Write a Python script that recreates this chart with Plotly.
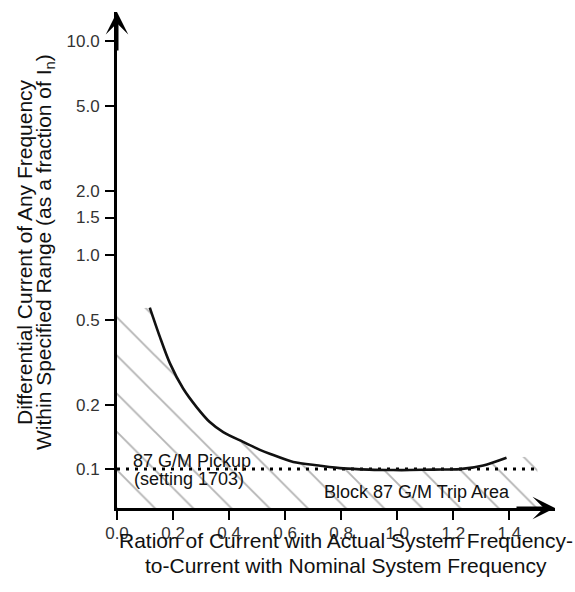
import math
import plotly.graph_objects as go

# ---- data ----
curve_x = [0.117, 0.153, 0.189, 0.236, 0.284, 0.331, 0.379, 0.45, 0.51, 0.545,
           0.629, 0.72, 0.807, 0.9, 0.986, 1.045, 1.13, 1.224, 1.307, 1.39]
curve_y = [0.569, 0.415, 0.312, 0.238, 0.195, 0.166, 0.149, 0.134, 0.123, 0.118,
           0.108, 0.104, 0.1008, 0.0995, 0.099, 0.099, 0.0995, 0.1, 0.104, 0.113]

pickup_level = 0.1
pickup_x = [0.0, 1.49]

x_range = [0.0, 1.563]
y_min, y_max = 0.0658, 13.7

x_tickvals = [0.0, 0.2, 0.4, 0.6, 0.8, 1.0, 1.2, 1.4]
x_ticktext = ["0.0", "0.2", "0.4", "0.6", "0.8", "1.0", "1.2", "1.4"]
y_tickvals = [0.1, 0.2, 0.5, 1.0, 1.5, 2.0, 5.0, 10.0]
y_ticktext = ["0.1", "0.2", "0.5", "1.0", "1.5", "2.0", "5.0", "10.0"]

# hatched (trip-block) area: under the curve, extended to the axes
area_left_top = 0.55
area_right_x = 1.5
area_right_top = 0.115

FONT = "Liberation Sans, Arial, sans-serif"

area_x = [0.0, 0.0] + curve_x + [area_right_x, area_right_x, 0.0]
area_y = [y_min, area_left_top] + curve_y + [area_right_top, y_min, y_min]

fig = go.Figure()

fig.add_trace(go.Scatter(
    x=area_x, y=area_y, mode="lines", fill="toself",
    line=dict(width=0, color="rgba(0,0,0,0)"),
    fillcolor="rgba(0,0,0,0)",
    fillpattern=dict(shape="\\", size=27, solidity=0.07,
                     fgcolor="#6a6a6a", bgcolor="rgba(0,0,0,0)"),
    hoverinfo="skip", showlegend=False))

fig.add_trace(go.Scatter(
    x=pickup_x, y=[pickup_level] * len(pickup_x), mode="lines",
    line=dict(color="black", width=3, dash="3px,6px"),
    showlegend=False))

fig.add_trace(go.Scatter(
    x=curve_x, y=curve_y, mode="lines",
    line=dict(color="#111111", width=2.6, shape="spline", smoothing=0.8),
    showlegend=False))

tick_font = dict(family=FONT, size=17, color="#333333")
fig.update_xaxes(range=x_range, tickvals=x_tickvals, ticktext=x_ticktext,
                 showgrid=False, zeroline=False, showline=True, linecolor="black",
                 linewidth=3, ticks="outside", ticklen=9, tickwidth=2,
                 tickcolor="black", tickfont=tick_font, ticklabelstandoff=-1)
fig.update_yaxes(type="log", range=[math.log10(y_min), math.log10(y_max)],
                 tickvals=y_tickvals, ticktext=y_ticktext,
                 showgrid=False, zeroline=False, showline=True, linecolor="black",
                 linewidth=3, ticks="outside", ticklen=9, tickwidth=2,
                 tickcolor="black", tickfont=tick_font, ticklabelstandoff=2)

ann_font = dict(family=FONT, size=18, color="#111111")
title_font = dict(family=FONT, size=21, color="#111111")

annotations = [
    # axis arrowheads
    dict(x=1, y=0, xref="paper", yref="paper", ax=-40, ay=0, text="",
         showarrow=True, arrowhead=3, arrowsize=1.25, arrowwidth=3,
         arrowcolor="black", standoff=0),
    dict(x=0, y=1, xref="paper", yref="paper", ax=0, ay=40, text="",
         showarrow=True, arrowhead=3, arrowsize=1.25, arrowwidth=3,
         arrowcolor="black", standoff=0),
    # labels in plot
    dict(x=0.05, y=math.log10(0.1), xref="x", yref="y", text="87 G/M Pickup",
         showarrow=False, xanchor="left", yanchor="bottom", yshift=-4, font=ann_font),
    dict(x=0.055, y=math.log10(0.1), xref="x", yref="y", text="(setting 1703)",
         showarrow=False, xanchor="left", yanchor="top", yshift=2, font=ann_font),
    dict(x=0.73, y=math.log10(0.0785), xref="x", yref="y", text="Block 87 G/M Trip Area",
         showarrow=False, xanchor="left", yanchor="middle", font=ann_font),
    # axis titles
    dict(x=(346 - 117) / 438, y=-(540 - 508) / 496, xref="paper", yref="paper",
         text="Ration of Current with Actual System Frequency-", showarrow=False,
         xanchor="center", yanchor="middle", font=title_font),
    dict(x=(346 - 117) / 438, y=-(565 - 508) / 496, xref="paper", yref="paper",
         text="to-Current with Nominal System Frequency", showarrow=False,
         xanchor="center", yanchor="middle", font=title_font),
    dict(x=(24 - 117) / 438, y=(508 - 252) / 496, xref="paper", yref="paper",
         text="Differential Current of Any Frequency", showarrow=False, textangle=-90,
         xanchor="center", yanchor="middle", font=title_font),
    dict(x=(45 - 117) / 438, y=(508 - 252) / 496, xref="paper", yref="paper",
         text="Within Specified Range (as a fraction of I<sub>n</sub>)", showarrow=False,
         textangle=-90, xanchor="center", yanchor="middle", font=title_font),
]

fig.update_layout(
    width=575, height=592,
    margin=dict(l=117, r=20, t=12, b=84),
    paper_bgcolor="white", plot_bgcolor="white",
    showlegend=False,
    annotations=annotations,
)

fig.write_html("out.html", config={"displayModeBar": False},
               post_script="document.body.style.margin='0';document.body.style.padding='0';")
